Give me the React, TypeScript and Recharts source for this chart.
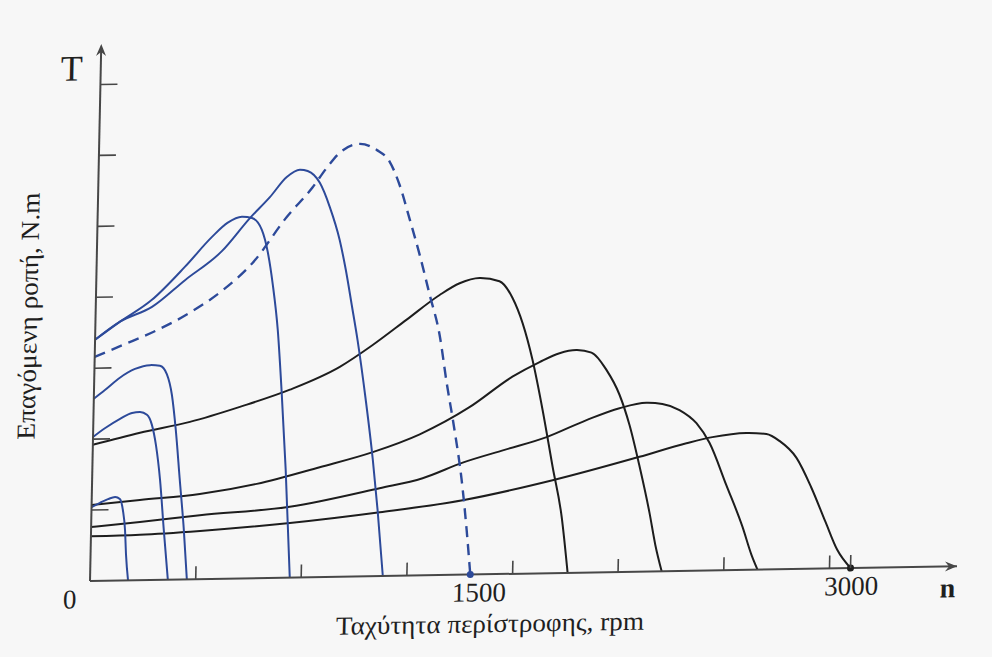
import { LineChart, Line, XAxis, YAxis, ReferenceDot } from 'recharts'

// torque-speed curves, [speed rpm, torque in tick units]
const blue1: [number, number][] = [[0, 1.04], [33, 1.1], [64, 1.15], [92, 1.18], [111, 1.15], [124, 0.99], [134, 0.71], [140, 0.36], [150, 0]]
const blue2: [number, number][] = [[0, 2.03], [46, 2.15], [105, 2.28], [152, 2.36], [183, 2.37], [211, 2.33], [231, 2.19], [249, 1.9], [268, 1.41], [287, 0.7], [307, 0]]
const blue3: [number, number][] = [[0, 2.57], [43, 2.69], [101, 2.86], [160, 2.98], [219, 3.03], [258, 3.02], [286, 2.9], [308, 2.6], [326, 2.11], [346, 1.4], [366, 0.7], [382, 0]]
const blue4: [number, number][] = [[0, 3.4], [89, 3.63], [221, 3.95], [349, 4.41], [452, 4.82], [514, 5.02], [569, 5.1], [609, 5.08], [649, 4.91], [674, 4.6], [697, 4.13], [720, 3.5], [741, 2.6], [763, 1.52], [788, 0]]
const blue5: [number, number][] = [[0, 3.4], [97, 3.65], [222, 3.85], [350, 4.22], [493, 4.62], [601, 5.08], [678, 5.37], [743, 5.65], [794, 5.75], [825, 5.73], [874, 5.56], [915, 5.22], [957, 4.75], [984, 4.32], [1010, 3.83], [1036, 3.33], [1073, 2.49], [1106, 1.64], [1129, 0.93], [1155, 0]]
const blueDashed: [number, number][] = [[0, 3.16], [110, 3.32], [243, 3.52], [372, 3.76], [500, 4.07], [616, 4.45], [747, 5.09], [846, 5.5], [900, 5.77], [950, 5.98], [1028, 6.1], [1096, 6.01], [1148, 5.84], [1189, 5.51], [1232, 5.02], [1274, 4.52], [1317, 3.95], [1359, 3.39], [1391, 2.71], [1426, 2.04], [1458, 1.34], [1482, 0.63], [1500, 0]]

const black1: [number, number][] = [[0, 1.92], [185, 2.08], [381, 2.22], [577, 2.42], [773, 2.65], [968, 2.96], [1096, 3.26], [1228, 3.61], [1356, 3.95], [1434, 4.11], [1512, 4.18], [1591, 4.13], [1644, 3.89], [1686, 3.53], [1728, 3.01], [1772, 2.3], [1816, 1.5], [1856, 0.79], [1884, 0]]
const black2: [number, number][] = [[0, 1.07], [190, 1.13], [426, 1.2], [650, 1.33], [897, 1.55], [1105, 1.75], [1289, 1.99], [1483, 2.36], [1650, 2.78], [1756, 2.98], [1834, 3.1], [1900, 3.14], [1960, 3.1], [2021, 2.85], [2074, 2.5], [2116, 2.07], [2158, 1.5], [2202, 0.83], [2228, 0.37], [2255, 0]]
const black3: [number, number][] = [[0, 0.76], [192, 0.82], [428, 0.9], [782, 1.0], [1135, 1.24], [1304, 1.37], [1461, 1.58], [1625, 1.75], [1790, 1.92], [1946, 2.15], [2075, 2.31], [2181, 2.38], [2244, 2.36], [2312, 2.27], [2380, 2.08], [2433, 1.8], [2503, 1.2], [2570, 0.61], [2608, 0.21], [2633, 0]]
const black4: [number, number][] = [[0, 0.63], [193, 0.64], [430, 0.68], [784, 0.77], [1138, 0.9], [1464, 1.05], [1817, 1.31], [2158, 1.62], [2342, 1.8], [2444, 1.88], [2578, 1.93], [2657, 1.91], [2709, 1.81], [2777, 1.57], [2838, 1.15], [2897, 0.66], [2946, 0.26], [3000, 0]]

const xMarks = [417, 833, 1250, 1667, 2083, 2500, 2917, 3000]
const xLabels = [0, 1500, 3000]
const yTicks = [1, 2, 3, 4, 5, 6, 7]

const SERIF = '"Liberation Serif", "DejaVu Serif", serif'
const AXIS = '#474747'
const BLUE = '#2d4a9a'
const BLACK = '#1d1d1d'
const TEXT = '#1f1f1f'

const rows = (pts: [number, number][]) => pts.map(([n, t]) => ({ n, t }))

const XTick = (props: any) => {
  const { x, y, payload } = props
  const v = payload.value
  const dx = v === 0 ? -20 : v === 1500 ? 9 : 1
  return (
    <g>
      {xMarks.includes(v) && <line x1={x} x2={x} y1={y} y2={y - 13} stroke={AXIS} strokeWidth={1.6} />}
      {xLabels.includes(v) && (
        <text x={x + dx} y={y + 27} textAnchor="middle" fontSize={27} fontFamily={SERIF} fill={TEXT}>
          {v}
        </text>
      )}
    </g>
  )
}

const YTick = (props: any) => {
  const { x, y } = props
  return <line x1={x} x2={x + 17} y1={y} y2={y} stroke={AXIS} strokeWidth={1.6} />
}

const ArrowUp = (props: any) => {
  const { cx, cy } = props
  return <path d={`M${cx - 5},${cy + 7} L${cx},${cy - 5} L${cx + 5},${cy + 7} L${cx},${cy + 3} Z`} fill={AXIS} />
}

const ArrowRight = (props: any) => {
  const { cx, cy } = props
  return <path d={`M${cx - 12},${cy - 5} L${cx},${cy} L${cx - 12},${cy + 5} L${cx - 8},${cy} Z`} fill={AXIS} />
}

const blues = [blue1, blue2, blue3, blue4, blue5]
const blacks = [black1, black2, black3, black4]

export default function App() {
  return (
    <div style={{ position: 'absolute', left: 0, top: 0, width: 992, height: 657, background: '#f7f7f7', overflow: 'hidden' }}>
      {/* the scan is slightly skewed, axes are not quite square */}
      <div
        style={{
          position: 'absolute',
          left: 8,
          top: 8,
          width: 976,
          height: 641,
          transform: 'matrix(1, -0.017, -0.021, 1, 0, 0)',
          transformOrigin: '82px 573px',
        }}
      >
        <LineChart width={976} height={641} margin={{ top: 41, right: 27, bottom: 67, left: 81 }}>
          <XAxis
            type="number"
            dataKey="n"
            domain={[0, 3420]}
            allowDataOverflow
            ticks={[0, 417, 833, 1250, 1500, 1667, 2083, 2500, 2917, 3000]}
            interval={0}
            height={1}
            tickSize={0}
            tickMargin={0}
            tickLine={false}
            tick={(p: any) => <XTick {...p} />}
            axisLine={{ stroke: AXIS, strokeWidth: 2 }}
          />
          <YAxis
            type="number"
            domain={[0, 7.5]}
            allowDataOverflow
            ticks={yTicks}
            interval={0}
            width={1}
            tickSize={0}
            tickMargin={0}
            tickLine={false}
            tick={(p: any) => <YTick {...p} />}
            axisLine={{ stroke: AXIS, strokeWidth: 2 }}
          />
          {blacks.map((d, i) => (
            <Line key={'k' + i} data={rows(d)} dataKey="t" type="monotone" stroke={BLACK} strokeWidth={2} dot={false} isAnimationActive={false} />
          ))}
          {blues.map((d, i) => (
            <Line key={'b' + i} data={rows(d)} dataKey="t" type="monotone" stroke={BLUE} strokeWidth={2} dot={false} isAnimationActive={false} />
          ))}
          <Line data={rows(blueDashed)} dataKey="t" type="monotone" stroke={BLUE} strokeWidth={2.4} strokeDasharray="11 7" dot={false} isAnimationActive={false} />
          <ReferenceDot x={1500} y={0} r={3.5} fill={BLUE} stroke="none" ifOverflow="visible" />
          <ReferenceDot x={3000} y={0} r={3.5} fill={BLACK} stroke="none" ifOverflow="visible" />
          <ReferenceDot x={0} y={7.5} ifOverflow="visible" shape={(p: any) => <ArrowUp {...p} />} />
          <ReferenceDot x={3420} y={0} ifOverflow="visible" shape={(p: any) => <ArrowRight {...p} />} />
        </LineChart>
        <svg width={976} height={641} style={{ position: 'absolute', left: 0, top: 0, pointerEvents: 'none' }}>
          <text x={53} y={72} textAnchor="middle" fontSize={36} fontFamily={SERIF} fill={TEXT}>T</text>
          <text x={940} y={604} textAnchor="middle" fontSize={28} fontWeight="bold" fontFamily={SERIF} fill={TEXT}>n</text>
          <text x={483} y={631} textAnchor="middle" fontSize={26} fontFamily={SERIF} fill={TEXT} textLength={308} lengthAdjust="spacingAndGlyphs">
            Ταχύτητα περίστροφης, rpm
          </text>
          <text
            x={15}
            y={307}
            transform="rotate(-90 15 307)"
            textAnchor="middle"
            dominantBaseline="central"
            fontSize={26}
            fontFamily={SERIF}
            fill={TEXT}
            textLength={247}
            lengthAdjust="spacingAndGlyphs"
          >
            Επαγόμενη ροπή, N.m
          </text>
        </svg>
      </div>
    </div>
  )
}
